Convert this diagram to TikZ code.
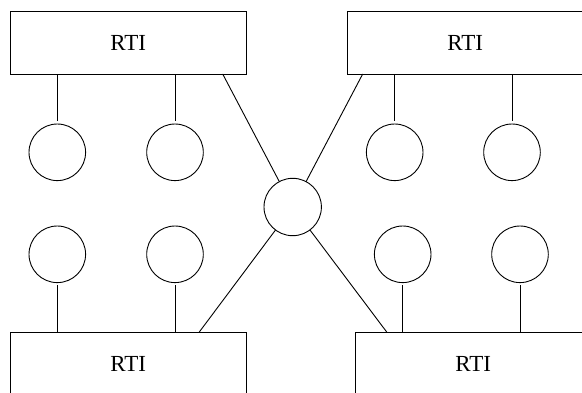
\documentclass[tikz,border=0pt]{standalone}
\usepackage{fontspec}
\setmainfont{Liberation Serif}
\begin{document}
\begin{tikzpicture}[x=1pt,y=-1pt,line width=0.9pt,
  rti/.style={draw,rectangle,minimum width=235.7pt,minimum height=63pt,inner sep=0pt,outer sep=0pt,anchor=north west,font=\fontsize{23}{23}\selectfont},
  fed/.style={draw,circle,minimum size=56.6pt,inner sep=0pt,outer sep=0pt},
  hub/.style={draw,circle,minimum size=57.4pt,inner sep=0pt,outer sep=0pt},
  gapend/.style={shorten >=3.5pt},
  gapstart/.style={shorten <=2.7pt}]
\useasboundingbox (0,0) rectangle (582,392);
\clip (0,0) rectangle (582,392);
% RTI boxes
\node[rti] (tl) at (10.3,11) {RTI};
\node[rti] (tr) at (347.3,11) {RTI};
\node[rti] (bl) at (10.3,332) {RTI};
\node[rti] (br) at (355.3,332) {RTI};
% federates
\node[fed] (c1) at (57.3,152.3) {};
\node[fed] (c2) at (175,152.3) {};
\node[fed] (c3) at (394.7,152.3) {};
\node[fed] (c4) at (512,152.3) {};
\node[fed] (c5) at (57.3,254.3) {};
\node[fed] (c6) at (175,254.3) {};
\node[fed] (c7) at (402.7,254.3) {};
\node[fed] (c8) at (520,254.3) {};
% hub
\node[hub] (ctr) at (292.7,207) {};
% vertical connectors
\draw[gapend] (tl.south -| c1) -- (c1);
\draw[gapend] (tl.south -| c2) -- (c2);
\draw[gapend] (tr.south -| c3) -- (c3);
\draw[gapend] (tr.south -| c4) -- (c4);
\draw[gapstart] (c5) -- (bl.north -| c5);
\draw[gapstart] (c6) -- (bl.north -| c6);
\draw[gapstart] (c7) -- (br.north -| c7);
\draw[gapstart] (c8) -- (br.north -| c8);
% diagonal connectors
\draw ([xshift=212.4pt]tl.south west) -- (ctr);
\draw ([xshift=15.4pt]tr.south west) -- (ctr);
\draw ([xshift=189pt]bl.north west) -- (ctr);
\draw ([xshift=31.4pt]br.north west) -- (ctr);
\end{tikzpicture}
\end{document}
